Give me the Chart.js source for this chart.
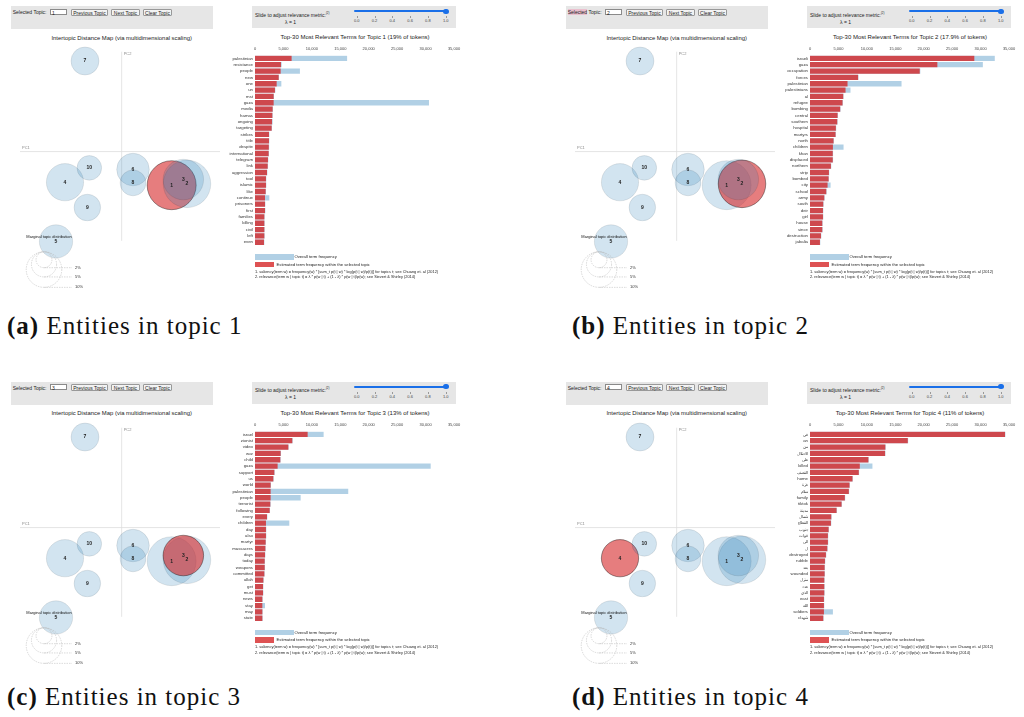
<!DOCTYPE html>
<html>
<head>
<meta charset="utf-8">
<title>LDAvis - entities per topic</title>
<script src="https://cdn.jsdelivr.net/npm/chart.js@4.4.1/dist/chart.umd.min.js"></script>
<style>
  html, body { margin: 0; padding: 0; background: #fff; }
  body { width: 1024px; height: 717px; position: relative; overflow: hidden;
         font-family: "Liberation Sans", Arial, sans-serif; color: #222; }
  .panel { position: absolute; width: 470px; height: 300px; }
  .t { position: absolute; white-space: nowrap; }
  .ctl { position: absolute; background: #e6e6e6; }
  .inp { position: absolute; width: 17px; height: 6px; background: #fff; border: 0.6px solid #8a8a8a;
         font-size: 5px; line-height: 6px; padding-left: 1px; box-sizing: border-box; }
  .btn { position: absolute; top: 2.7px; height: 7px; background: #f3f3f3; border: 0.6px solid #999;
         border-radius: 1px; font-size: 5px; line-height: 6px; text-align: center; box-sizing: border-box; }
  .hl { background: rgba(240,120,160,0.35); }
  canvas { position: absolute; }
  .cap { position: absolute; font-family: "Liberation Serif", serif; font-size: 25px; letter-spacing: 1px;
         white-space: nowrap; color: #111; line-height: 30px; }
</style>
</head>
<body>
<script>
// ---- intertopic distance map (same layout in every panel) ----
const topicIds    = [1, 2, 3, 4, 5, 6, 7, 8, 9, 10];
const topicPC1    = [0.150, 0.196, 0.185, -0.170, -0.197, 0.034, -0.110, 0.034, -0.103, -0.097];
const topicPC2    = [-0.101, -0.097, -0.084, -0.092, -0.270, -0.054, 0.272, -0.094, -0.168, -0.049];
const topicShare  = [19, 17.9, 13, 11, 8.8, 8.4, 6.2, 5.3, 5.6, 4.8];   // % of tokens
const guideShares = [2, 5, 10];
const guideLabels = ['2%', '5%', '10%'];

// ---- axis ticks ----
const freqTicks   = ['0', '5,000', '10,000', '15,000', '20,000', '25,000', '30,000', '35,000'];
const lambdaTicks = ['0.0', '0.2', '0.4', '0.6', '0.8', '1.0'];

// ---- topic 1 ----
const termsT1   = ['palestinian', 'resistance', 'people', 'new', 'one', 'un', 'mst', 'gaza', 'media', 'hamas',
                   'ongoing', 'targeting', 'strikes', 'title', 'despite', 'international', 'telegram', 'link', 'aggression', 'tool',
                   'islamic', 'like', 'continue', 'prisoners', 'first', 'families', 'killing', 'civil', 'left', 'even'];
const topicFreqT1   = [6440, 4570, 4510, 4160, 3810, 3510, 3280, 3280, 3100, 3050,
                       2990, 2930, 2460, 2460, 2430, 2400, 2280, 2230, 2110, 1930,
                       1930, 1870, 1760, 1760, 1760, 1640, 1640, 1640, 1640, 1580];
const overallFreqT1 = [16200, 4690, 7900, 4220, 4630, 3580, 3340, 30600, 3160, 3110,
                       3100, 2990, 2520, 2520, 2490, 2460, 2340, 2290, 2170, 1990,
                       1990, 1930, 2520, 1820, 1820, 1700, 1700, 1700, 1700, 1640];

// ---- topic 2 ----
const termsT2   = ['israeli', 'gaza', 'occupation', 'forces', 'palestinian', 'palestinians', 'al', 'refugee', 'bombing', 'central',
                   'southern', 'hospital', 'martyrs', 'north', 'children', 'khan', 'displaced', 'northern', 'strip', 'bombed',
                   'city', 'school', 'army', 'south', 'deir', 'girl', 'house', 'since', 'destruction', 'jabalia'];
const topicFreqT2   = [28900, 22400, 19300, 8460, 6600, 6250, 5840, 5720, 5310, 4850,
                       4790, 4550, 4490, 4140, 4030, 4000, 4000, 3680, 3330, 3270,
                       3090, 2860, 2510, 2330, 2280, 2280, 2160, 2160, 1930, 1750];
const overallFreqT2 = [32500, 30400, 19400, 8520, 16100, 7120, 5900, 5780, 5370, 4910,
                       4850, 4610, 4550, 4200, 5900, 4060, 4060, 3740, 3390, 3330,
                       3620, 2920, 2570, 2390, 2340, 2340, 2220, 2220, 1990, 1810];

// ---- topic 3 ----
const termsT3   = ['israel', 'zionist', 'video', 'war', 'child', 'gaza', 'support', 'us', 'world', 'palestinian',
                   'people', 'terrorist', 'following', 'every', 'children', 'day', 'also', 'martyr', 'massacres', 'days',
                   'today', 'weapons', 'committed', 'allah', 'get', 'must', 'news', 'stay', 'may', 'state'];
const topicFreqT3   = [9260, 6560, 5860, 4510, 4450, 3980, 3400, 3220, 2750, 2750,
                       2750, 2690, 2580, 2110, 1930, 1930, 1930, 1870, 1820, 1760,
                       1700, 1700, 1640, 1470, 1410, 1410, 1290, 1290, 1290, 1290];
const overallFreqT3 = [12070, 6620, 5920, 4570, 4510, 30900, 3460, 3280, 2810, 16400,
                       8030, 2750, 2640, 2170, 6030, 1990, 1990, 1930, 1880, 1820,
                       1760, 1760, 1700, 1530, 1470, 1470, 1350, 1760, 1350, 1350];

// ---- topic 4 ----
const termsT4   = ['في', 'an', 'من', 'الاحتلال', 'على', 'killed', 'القصف', 'home', 'غزة', 'سلام',
                   'family', 'tiktok', 'مدينة', 'شمال', 'القطاع', 'جنوب', 'قوات', 'الى', 'ل', 'destroyed',
                   'rubble', 'بعد', 'wounded', 'منزل', 'عدد', 'الذي', 'east', 'الله', 'soldiers', 'شهداء'];
const topicFreqT4   = [34300, 17200, 13250, 13200, 10270, 8760, 8580, 7470, 6950, 6830,
                       6130, 5550, 4670, 3740, 3680, 3270, 3150, 3150, 3040, 2800,
                       2630, 2570, 2570, 2510, 2510, 2510, 2450, 2450, 2450, 2330];
const overallFreqT4 = [34360, 17260, 13310, 13260, 10330, 10980, 8640, 7530, 7010, 6890,
                       6190, 5610, 4730, 3800, 3740, 3330, 3210, 3210, 3100, 2860,
                       2690, 2630, 2630, 2570, 2570, 2570, 2510, 2510, 4030, 2390];

const FONT = '"Liberation Sans", Arial, sans-serif';
const RED = 'rgba(214,39,40,0.8)';
const BLUE = 'rgba(31,119,180,0.35)';

// radius of a topic circle grows with sqrt of its token share
function radius(share) { return 5.62 * Math.sqrt(share); }

// small helper for absolutely placed text (cy = vertical centre)
function txt(parent, html, x, cy, size, style) {
    const d = document.createElement('div');
    d.className = 't';
    d.innerHTML = html;
    d.style.left = x + 'px';
    d.style.top = (cy - size * 0.6) + 'px';
    d.style.fontSize = size + 'px';
    d.style.lineHeight = (size * 1.2) + 'px';
    if (style) Object.assign(d.style, style);
    parent.appendChild(d);
    return d;
}

// PC axes, topic numbers and the marginal-distribution guide
const mapDecor = {
    id: 'mapDecor',
    beforeDatasetsDraw(chart) {
        const { ctx, chartArea: a, scales: { x, y } } = chart;
        const x0 = x.getPixelForValue(0), y0 = y.getPixelForValue(0);
        ctx.save();
        ctx.strokeStyle = '#dedede';
        ctx.lineWidth = 0.8;
        ctx.beginPath();
        ctx.moveTo(x0, a.top); ctx.lineTo(x0, a.bottom);
        ctx.moveTo(a.left, y0); ctx.lineTo(a.right, y0);
        ctx.stroke();
        ctx.fillStyle = '#8a8a8a';
        ctx.font = '4px ' + FONT;
        ctx.textAlign = 'left';
        ctx.textBaseline = 'bottom';
        ctx.fillText('PC1', a.left + 2, y0 - 2);
        ctx.textBaseline = 'top';
        ctx.fillText('PC2', x0 + 2, a.top);
        ctx.restore();
    },
    afterDatasetsDraw(chart) {
        const { ctx, chartArea: a } = chart;
        const meta = chart.getDatasetMeta(0);
        ctx.save();
        ctx.fillStyle = '#222';
        ctx.font = 'bold 5px ' + FONT;
        ctx.textAlign = 'center';
        ctx.textBaseline = 'middle';
        meta.data.forEach((pt, i) => ctx.fillText(String(topicIds[i]), pt.x, pt.y));

        // marginal topic distribution guide
        const cx = a.left + 24, top = a.bottom + 11;
        ctx.font = '4px ' + FONT;
        ctx.fillStyle = '#111';
        ctx.fillText('Marginal topic distribution', cx + 5, a.bottom - 4);
        ctx.strokeStyle = '#b5b5b5';
        ctx.lineWidth = 0.5;
        ctx.setLineDash([1.5, 1]);
        ctx.textAlign = 'left';
        guideShares.forEach((s, i) => {
            const r = radius(s);
            ctx.beginPath();
            ctx.arc(cx, top + r, r, 0, Math.PI * 2);
            ctx.stroke();
            ctx.beginPath();
            ctx.moveTo(cx, top + 2 * r);
            ctx.lineTo(cx + 28, top + 2 * r);
            ctx.stroke();
            ctx.fillStyle = '#333';
            ctx.fillText(guideLabels[i], cx + 31, top + 2 * r);
        });
        ctx.restore();
    }
};

function bubbleChart(canvas, selected) {
    return new Chart(canvas, {
        type: 'bubble',
        data: {
            datasets: [{
                data: topicIds.map((t, i) => ({ x: topicPC1[i], y: topicPC2[i], r: radius(topicShare[i]) })),
                backgroundColor: topicIds.map(t => t === selected ? 'rgba(214,39,40,0.6)' : 'rgba(31,119,180,0.2)'),
                borderColor: topicIds.map(t => t === selected ? 'rgba(0,0,0,0.55)' : 'rgba(0,0,0,0.12)'),
                borderWidth: 0.7,
                hoverRadius: 0,
                clip: false
            }]
        },
        options: {
            responsive: false,
            animation: false,
            events: [],
            layout: { autoPadding: false, padding: { left: 20, right: 20, top: 11.7, bottom: 54.2 } },
            plugins: { legend: { display: false }, tooltip: { enabled: false } },
            scales: {
                x: { display: false, min: -0.305, max: 0.295 },
                y: { display: false, min: -0.268, max: 0.3 }
            }
        },
        plugins: [mapDecor]
    });
}

function barChart(canvas, terms, topicFreq, overallFreq) {
    return new Chart(canvas, {
        type: 'bar',
        data: {
            labels: terms,
            datasets: [
                {
                    label: 'Estimated term frequency within the selected topic',
                    data: topicFreq,
                    backgroundColor: RED,
                    grouped: false,
                    categoryPercentage: 0.84,
                    barPercentage: 1
                },
                {
                    label: 'Overall term frequency',
                    data: overallFreq,
                    backgroundColor: BLUE,
                    grouped: false,
                    categoryPercentage: 0.84,
                    barPercentage: 1
                }
            ]
        },
        options: {
            indexAxis: 'y',
            responsive: false,
            animation: false,
            events: [],
            layout: { autoPadding: false, padding: { top: 0, left: 0, right: 11, bottom: 3.7 } },
            plugins: { legend: { display: false }, tooltip: { enabled: false } },
            scales: {
                x: {
                    position: 'top',
                    min: 0, max: 35000,
                    grid: { display: false, drawTicks: false },
                    border: { display: false },
                    ticks: {
                        stepSize: 5000, autoSkip: false, maxRotation: 0, padding: 4,
                        color: '#444', font: { size: 4, family: FONT },
                        callback: (v, i) => freqTicks[i]
                    },
                    afterFit: s => { s.height = 15.2; }
                },
                y: {
                    grid: { display: false, drawTicks: false },
                    border: { display: false },
                    ticks: { autoSkip: false, padding: 2, color: '#333', font: { size: 4.3, family: FONT } },
                    afterFit: s => { s.width = 80; }
                }
            }
        }
    });
}

function buildPanel(cfg) {
    const p = document.createElement('div');
    p.className = 'panel';
    p.style.left = cfg.ox + 'px';
    p.style.top = cfg.oy + 'px';
    document.body.appendChild(p);

    // topic selector
    const left = document.createElement('div');
    left.className = 'ctl';
    Object.assign(left.style, { left: '11px', top: '6px', width: '202px', height: '23px' });
    p.appendChild(left);
    txt(left, (cfg.mark ? '<span class="hl">Selected</span>' : 'Selected') + ' Topic:', 1.7, 6.2, 5);
    const inp = document.createElement('div');
    inp.className = 'inp';
    Object.assign(inp.style, { left: '39px', top: '2.7px' });
    inp.textContent = cfg.topic;
    left.appendChild(inp);
    [['Previous Topic', 59.7, 37.6], ['Next Topic', 100, 29], ['Clear Topic', 131.7, 29.6]].forEach(([label, x, w]) => {
        const b = document.createElement('div');
        b.className = 'btn';
        b.style.left = x + 'px';
        b.style.width = w + 'px';
        b.textContent = label;
        left.appendChild(b);
    });

    // relevance slider
    const right = document.createElement('div');
    right.className = 'ctl';
    Object.assign(right.style, { left: '252px', top: '6px', width: '204px', height: '22px' });
    p.appendChild(right);
    txt(right, 'Slide to adjust relevance metric:<sup style="font-size:3px">(2)</sup>', 3, 6.8, 5);
    txt(right, '&lambda; = 1', 33, 15.8, 5);
    const track = document.createElement('div');
    Object.assign(track.style, { position: 'absolute', left: '102.3px', top: '4.3px', width: '91.7px', height: '1.8px',
        background: '#1a6fe8', borderRadius: '1px' });
    right.appendChild(track);
    const knob = document.createElement('div');
    Object.assign(knob.style, { position: 'absolute', left: '191.3px', top: '2.5px', width: '5.4px', height: '5.4px',
        background: '#1a6fe8', borderRadius: '50%' });
    right.appendChild(knob);
    lambdaTicks.forEach((lab, i) => {
        const x = 104.7 + i * 17.8;
        const tick = document.createElement('div');
        Object.assign(tick.style, { position: 'absolute', left: x + 'px', top: '10.2px', width: '0.5px', height: '2px', background: '#999' });
        right.appendChild(tick);
        txt(right, lab, x - 4, 15.8, 4, { width: '8px', textAlign: 'center', color: '#444' });
    });

    // titles
    txt(p, 'Intertopic Distance Map (via multidimensional scaling)', 21.7, 38.3, 5.9, { width: '200px', textAlign: 'center' });
    txt(p, 'Top-30 Most Relevant Terms for Topic ' + cfg.topic + ' (' + cfg.pct + ' of tokens)', 255, 38, 6, { width: '200px', textAlign: 'center' });

    // intertopic map
    const bc = document.createElement('canvas');
    bc.width = 240; bc.height = 255;
    Object.assign(bc.style, { left: '0px', top: '40px', width: '240px', height: '255px' });
    p.appendChild(bc);
    bubbleChart(bc, cfg.topic);

    // term bars
    const tc = document.createElement('canvas');
    tc.width = 290; tc.height = 210;
    Object.assign(tc.style, { left: '175px', top: '40px', width: '290px', height: '210px' });
    p.appendChild(tc);
    barChart(tc, cfg.terms, cfg.topicFreq, cfg.overallFreq);

    // legend + footnotes
    const lb = document.createElement('div');
    Object.assign(lb.style, { position: 'absolute', left: '255px', top: '254.3px', width: '38.5px', height: '5.4px', background: BLUE });
    p.appendChild(lb);
    txt(p, 'Overall term frequency', 294.5, 257, 4.2);
    const lr = document.createElement('div');
    Object.assign(lr.style, { position: 'absolute', left: '255px', top: '261.6px', width: '19px', height: '5.6px', background: RED });
    p.appendChild(lr);
    txt(p, 'Estimated term frequency within the selected topic', 276.5, 264.4, 4.2);
    txt(p, '1. saliency(term w) = frequency(w) * [sum_t p(t | w) * log(p(t | w)/p(t))] for topics t; see Chuang et. al (2012)', 255, 272.3, 3.9);
    txt(p, '2. relevance(term w | topic t) = &lambda; * p(w | t) + (1 - &lambda;) * p(w | t)/p(w); see Sievert &amp; Shirley (2014)', 255, 277.8, 3.9);

    // caption
    const cap = document.createElement('div');
    cap.className = 'cap';
    cap.innerHTML = '<b>(' + cfg.key + ')</b> Entities in topic ' + cfg.topic;
    Object.assign(cap.style, { left: cfg.capX + 'px', top: cfg.capY + 'px' });
    document.body.appendChild(cap);
}

buildPanel({ key: 'a', ox: 0,   oy: 0,     topic: 1, pct: '19%',   terms: termsT1, topicFreq: topicFreqT1, overallFreq: overallFreqT1, capX: 7,   capY: 310.5 });
buildPanel({ key: 'b', ox: 555, oy: 0,     topic: 2, pct: '17.9%', terms: termsT2, topicFreq: topicFreqT2, overallFreq: overallFreqT2, capX: 572, capY: 310.5, mark: true });
buildPanel({ key: 'c', ox: 0,   oy: 375.5, topic: 3, pct: '13%',   terms: termsT3, topicFreq: topicFreqT3, overallFreq: overallFreqT3, capX: 7,   capY: 682 });
buildPanel({ key: 'd', ox: 555, oy: 375.5, topic: 4, pct: '11%',   terms: termsT4, topicFreq: topicFreqT4, overallFreq: overallFreqT4, capX: 572, capY: 682 });
</script>
</body>
</html>
